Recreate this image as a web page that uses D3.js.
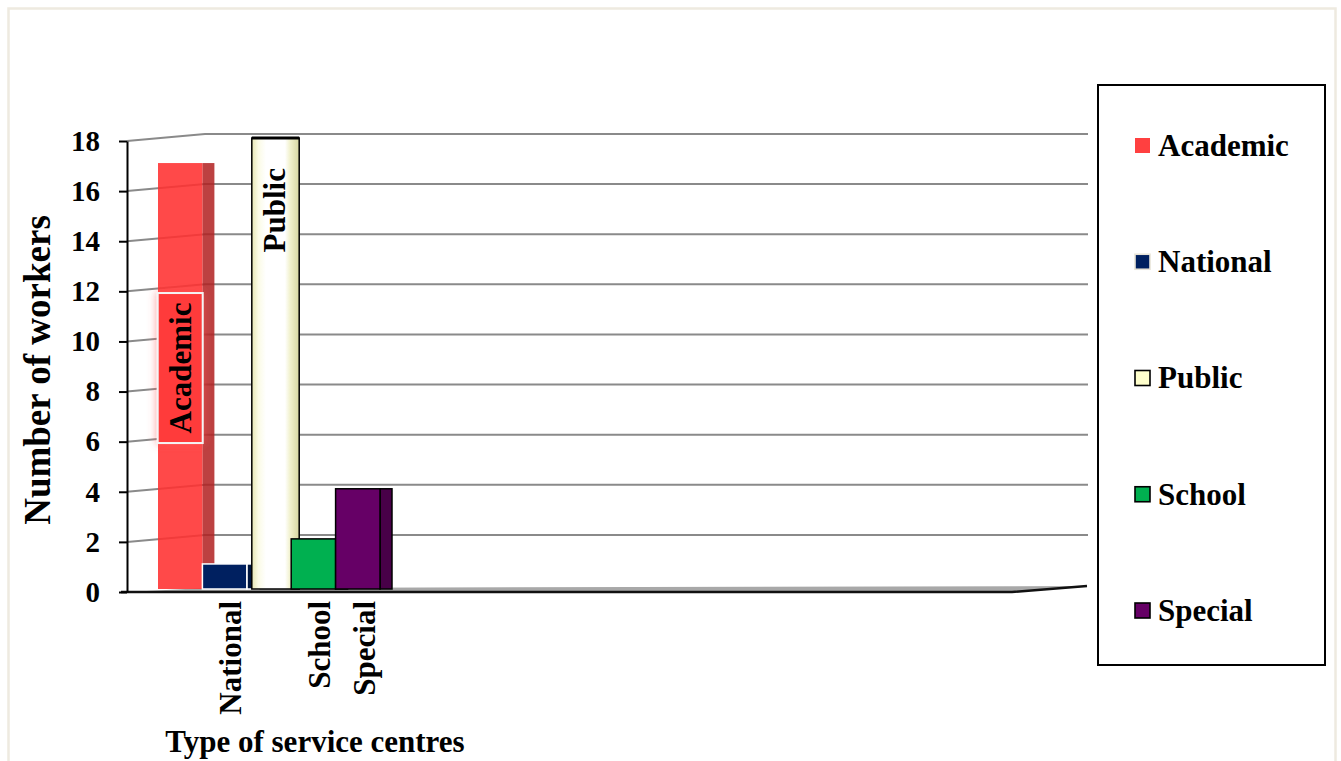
<!DOCTYPE html>
<html>
<head>
<meta charset="utf-8">
<script src="https://cdn.jsdelivr.net/npm/d3@7"></script>
<style>
  body { margin: 0; background: #fff; }
  svg { display: block; }
  text { font-family: "Liberation Serif", "Times New Roman", serif; font-weight: bold; fill: #000; }
</style>
</head>
<body>
<svg id="chart" width="1341" height="761"></svg>
<script>
// ---- data ----
const categories = ["Academic", "National", "Public", "School", "Special"];
const workers = [17, 1, 18, 2, 4];
const yTicks = [0, 2, 4, 6, 8, 10, 12, 14, 16, 18];
const insideLabels = ["Academic", "Public"];          // labelled on the bar itself
const axisLabels = ["National", "School", "Special"]; // labelled under the axis
const xTitle = "Type of service centres";
const yTitle = "Number of workers";

// ---- styling per category ----
const frontFill = { Academic: "#FF3030", National: "#002060", Public: "url(#publicGrad)", School: "#00B050", Special: "#660066" };
const sideFill  = { Academic: "#B02020", National: "#001640", Public: "#D8D8A4", School: "#008a3e", Special: "#480048" };
const edge      = { Academic: "none", National: "#ffffff", Public: "#000", School: "#000", Special: "#000" };
const legendFill = { Academic: "#FF4040", National: "#002060", Public: "#FFFFCC", School: "#00B050", Special: "#660066" };
const legendEdge = { Academic: "none", National: "#e8e4d8", Public: "#000", School: "#000", Special: "#000" };

const svg = d3.select("#chart");
const defs = svg.append("defs");

// rounded, column-like shading for the light bar
const g1 = defs.append("linearGradient").attr("id", "publicGrad").attr("x1", 0).attr("x2", 1).attr("y1", 0).attr("y2", 0);
[[0, "#E6E6B4"], [0.14, "#FBFBE6"], [0.3, "#FFFFFF"], [0.7, "#FFFFFF"], [0.8, "#F2F2D0"], [1, "#D6D6A0"]].forEach(([o, c]) =>
  g1.append("stop").attr("offset", o).attr("stop-color", c));

const glow = defs.append("filter").attr("id", "glow").attr("x", "-40%").attr("y", "-20%").attr("width", "180%").attr("height", "140%");
glow.append("feGaussianBlur").attr("in", "SourceAlpha").attr("stdDeviation", 4).attr("result", "b");
glow.append("feFlood").attr("flood-color", "#ff5050").attr("flood-opacity", 0.6);
glow.append("feComposite").attr("in2", "b").attr("operator", "in").attr("result", "s");
const gm = glow.append("feMerge");
gm.append("feMergeNode").attr("in", "s");
gm.append("feMergeNode").attr("in", "SourceGraphic");

// ---- outer frame ----
svg.append("rect").attr("x", 8.5).attr("y", 8.5).attr("width", 1327).attr("height", 800)
  .attr("fill", "none").attr("stroke", "#EEEAE0").attr("stroke-width", 2.5);

// ---- scales ----
const axisX = 127, wallX = 205, wallRight = 1088, rise = 7;
const y = d3.scaleLinear().domain([0, 18]).range([592, 141]);
const x = d3.scaleBand().domain(categories).range([158, 380]).padding(0);
const sideW = 12, lift = 3, barBase = 589;

// ---- gridlines on the side and back walls ----
svg.append("g").selectAll("path").data(yTicks.filter(v => v > 0)).join("path")
  .attr("d", v => `M${axisX},${y(v)}L${wallX},${y(v) - rise}L${wallRight},${y(v) - rise}`)
  .attr("fill", "none").attr("stroke", "#8a8a8a").attr("stroke-width", 2);

// ---- floor ----
svg.append("path")
  .attr("d", `M${axisX},${y(0)}L${wallX},${y(0) - 4}L${wallRight - 1},${y(0) - 6}L1012,${y(0)}Z`)
  .attr("fill", "#a8a8a8");
svg.append("path")
  .attr("d", `M${axisX - 6},${y(0)}L1012,${y(0)}L${wallRight - 1},${y(0) - 6}`)
  .attr("fill", "none").attr("stroke", "#111").attr("stroke-width", 2.5);

// ---- bars ----
const data = categories.map((c, i) => ({ c, v: workers[i] }));
const bars = svg.append("g").selectAll("g").data(data).join("g");
const boxes = bars.filter(d => d.c !== "Public");
boxes.append("rect")
  .attr("x", d => x(d.c) + x.bandwidth())
  .attr("y", d => y(d.v) - lift)
  .attr("width", sideW)
  .attr("height", d => barBase - (y(d.v) - lift))
  .attr("fill", d => sideFill[d.c])
  .attr("fill-opacity", d => d.c === "Academic" ? 0.85 : 1)
  .attr("stroke", d => edge[d.c]).attr("stroke-width", 1.5);
boxes.append("rect")
  .attr("x", d => x(d.c))
  .attr("y", d => y(d.v) - lift)
  .attr("width", x.bandwidth())
  .attr("height", d => barBase - (y(d.v) - lift))
  .attr("fill", d => frontFill[d.c])
  .attr("fill-opacity", d => d.c === "Academic" ? 0.88 : 1)
  .attr("stroke", d => edge[d.c]).attr("stroke-width", 1.5);
// the light bar is drawn as one shaded column with a heavy top rim
const pub = bars.filter(d => d.c === "Public");
pub.append("rect")
  .attr("x", d => x(d.c) + 5)
  .attr("y", d => y(d.v) - lift)
  .attr("width", x.bandwidth() + sideW - 9)
  .attr("height", d => barBase - (y(d.v) - lift))
  .attr("fill", d => frontFill[d.c])
  .attr("stroke", "#000").attr("stroke-width", 1.5);
pub.append("line")
  .attr("x1", d => x(d.c) + 5).attr("x2", d => x(d.c) + x.bandwidth() + sideW - 4)
  .attr("y1", d => y(d.v) - lift).attr("y2", d => y(d.v) - lift)
  .attr("stroke", "#000").attr("stroke-width", 3);
// bring the short bars in front of the light column's foot
bars.filter(d => d.c === "School" || d.c === "Special").raise();

// ---- labels drawn on the bars ----
const fs = 31;
data.filter(d => insideLabels.includes(d.c)).forEach(d => {
  const top = y(d.v) - lift;
  if (d.c === "Academic") {
    const cx = x(d.c) + x.bandwidth() / 2, cy = (top + barBase) / 2 - 8;
    svg.append("rect").attr("x", cx - 22.5).attr("y", cy - 75).attr("width", 45).attr("height", 150)
      .attr("fill", "#FF3A3A").attr("stroke", "#f4f4f4").attr("stroke-width", 2).attr("filter", "url(#glow)");
    svg.append("text").attr("transform", `translate(${cx},${cy}) rotate(-90)`)
      .attr("text-anchor", "middle").attr("dy", "0.35em").style("font-size", fs + "px").text(d.c);
  } else {
    const cx = x(d.c) + (x.bandwidth() + sideW) / 2 - 1;
    svg.append("text").attr("transform", `translate(${cx},${top + 30}) rotate(-90)`)
      .attr("text-anchor", "end").attr("dy", "0.35em").style("font-size", fs + "px").text(d.c);
  }
});

// ---- category labels under the axis ----
svg.append("g").selectAll("text").data(axisLabels).join("text")
  .attr("transform", c => `translate(${x(c) + x.bandwidth() / 2 + 6},${y(0) + 9}) rotate(-90)`)
  .attr("text-anchor", "end").attr("dy", "0.35em").style("font-size", fs + "px").text(c => c);

// ---- value axis ----
const axis = svg.append("g").attr("transform", `translate(${axisX},0)`)
  .call(d3.axisLeft(y).tickValues(yTicks).tickSize(8).tickSizeOuter(0).tickPadding(19));
axis.select(".domain").attr("stroke", "#000").attr("stroke-width", 2);
axis.selectAll(".tick line").attr("stroke", "#000").attr("stroke-width", 2);
axis.selectAll(".tick text").style("font-size", "29px")
  .style("font-family", "'Liberation Serif','Times New Roman',serif").style("font-weight", "bold").attr("fill", "#000");

// ---- titles ----
svg.append("text").attr("transform", "translate(37,370) rotate(-90)")
  .attr("text-anchor", "middle").attr("dy", "0.35em").style("font-size", "37px").text(yTitle);
svg.append("text").attr("x", 315).attr("y", 752)
  .attr("text-anchor", "middle").style("font-size", "31px").text(xTitle);

// ---- legend ----
svg.append("rect").attr("x", 1098).attr("y", 85).attr("width", 227).attr("height", 580)
  .attr("fill", "#fff").attr("stroke", "#000").attr("stroke-width", 2);
const leg = svg.append("g").selectAll("g").data(categories).join("g")
  .attr("transform", (c, i) => `translate(1135,${145 + i * 116.25})`);
leg.append("rect").attr("x", 0).attr("y", -7).attr("width", 15).attr("height", 15)
  .attr("fill", c => legendFill[c]).attr("stroke", c => legendEdge[c]).attr("stroke-width", 1.6);
leg.append("text").attr("x", 23).attr("dy", "0.35em").style("font-size", "31px").text(c => c);
</script>
</body>
</html>
